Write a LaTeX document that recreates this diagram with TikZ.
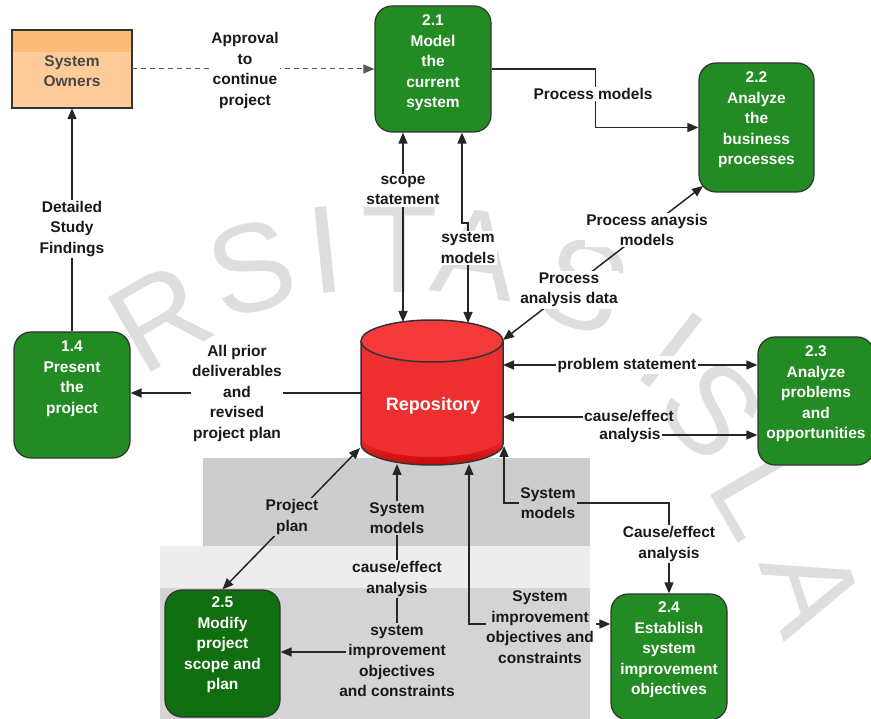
\documentclass[tikz,border=0pt]{standalone}
\usepackage{fontspec}
\setmainfont{Liberation Sans}
\usetikzlibrary{arrows.meta,calc}

\definecolor{procgreen}{HTML}{238B23}
\definecolor{procdark}{HTML}{0F6F0F}
\definecolor{ownerfill}{HTML}{FFCC99}
\definecolor{ownertop}{HTML}{FDBB7A}
\definecolor{edgegray}{HTML}{333333}
\definecolor{linegray}{HTML}{262626}
\definecolor{bandA}{HTML}{CDCDCD}
\definecolor{bandB}{HTML}{D4D4D4}
\definecolor{bandC}{HTML}{EDEDED}
\definecolor{repored}{HTML}{EE2F2F}
\definecolor{repotop}{HTML}{F43A3A}
\definecolor{repodeep}{HTML}{C80808}
\definecolor{marktint}{HTML}{DEDEDE}

\newcommand\lblfont{\bfseries\fontsize{15.5}{20.5}\selectfont}
\newcommand\markfont{\fontsize{125}{125}\selectfont}

\begin{document}
\begin{tikzpicture}[x=1pt,y=-1pt,
  every node/.style={inner sep=0pt},
  lbl/.style={font=\lblfont, align=center, text=black!90, inner sep=1.5pt},
  lblw/.style={lbl, fill=white},
  boxtext/.style={font=\lblfont, align=center, text=white, anchor=north},
  proc/.style={draw=edgegray, line width=1.2pt, rounded corners=17pt, fill=procgreen,
               minimum width=116pt, minimum height=126pt},
  flow/.style={draw=linegray, line width=1.5pt, -{Triangle[length=11pt,width=9pt]}},
  flow2/.style={draw=linegray, line width=1.5pt,
                {Triangle[length=11pt,width=9pt]}-{Triangle[length=11pt,width=9pt]}},
  plain/.style={draw=linegray, line width=1.5pt},
  sealmark/.style={font=\markfont, text=marktint},
]
\useasboundingbox (0,0) rectangle (871,719);
\fill[white] (0,0) rectangle (871,719);

% faint seal lettering in the background
\node[sealmark, rotate=30]  at (160,318) {R};
\node[sealmark, rotate=15]  at (252,268) {S};
\node[sealmark, rotate=6]   at (325,250) {I};
\node[sealmark, rotate=0]   at (400,250) {T};
\node[sealmark, rotate=-8]  at (476,254) {A};
\node[sealmark, rotate=-20] at (583,285) {S};
\node[sealmark, rotate=-38] at (672,350) {I};
\node[sealmark, rotate=-48] at (712,410) {S};
\node[sealmark, rotate=-60] at (760,495) {L};
\node[sealmark, rotate=-72] at (812,590) {A};

% grey panels behind the lower flows
\fill[bandC] (160,546) rectangle (590,588);
\fill[bandA] (203,458) rectangle (590,546);
\fill[bandB] (160,588) rectangle (590,719);

% external agent
\node[fill=ownerfill, minimum width=120pt, minimum height=78pt] (so) at (72,69) {};
\fill[ownertop] (so.north west) rectangle ($(so.north east)+(0,22)$);
\draw[edgegray, line width=1.6pt] (so.north west) rectangle (so.south east);
\node[font=\lblfont, align=center, text=black!72] (sot) at (72,71) {System\\Owners};

% processes
\node[proc] (p21) at (433,69) {};
\node[proc, minimum width=115pt, minimum height=129pt] (p22) at (756.5,127.5) {};
\node[proc] (p14) at (72,395) {};
\node[proc, minimum height=128pt] (p23) at (816,401) {};
\node[proc, fill=procdark, minimum width=115pt, minimum height=127pt] (p25) at (222.5,653.5) {};
\node[proc] (p24) at (669,657) {};

\node[boxtext] (p21t) at ($(p21.north)+(0,9.5)$) {2.1\\Model\\the\\current\\system};
\node[boxtext] (p22t) at ($(p22.north)+(0,9.5)$) {2.2\\Analyze\\the\\business\\processes};
\node[boxtext] (p14t) at ($(p14.north)+(0,9.5)$) {1.4\\Present\\the\\project};
\node[boxtext] (p23t) at ($(p23.north)+(0,9.5)$) {2.3\\Analyze\\problems\\and\\opportunities};
\node[boxtext] (p25t) at ($(p25.north)+(0,7.5)$) {2.5\\Modify\\project\\scope and\\plan};
\node[boxtext] (p24t) at ($(p24.north)+(0,8.5)$) {2.4\\Establish\\system\\improvement\\objectives};

% repository (data store drawn as a cylinder)
\fill[repored] (361,341) -- (361,444) arc[start angle=180, end angle=360, x radius=71pt, y radius=21pt] -- (503,341) -- cycle;
\shade[top color=repored, bottom color=repodeep]
  (361,436) -- (361,444) arc[start angle=180, end angle=360, x radius=71pt, y radius=21pt]
  -- (503,436) arc[start angle=360, end angle=180, x radius=71pt, y radius=21pt] -- cycle;
\draw[edgegray, line width=1.5pt] (361,341) -- (361,444)
  arc[start angle=180, end angle=360, x radius=71pt, y radius=21pt] -- (503,341);
\draw[edgegray, line width=1.5pt, fill=repotop] (432,341) ellipse[x radius=71pt, y radius=21pt];
\node[font=\bfseries\fontsize{18}{20}\selectfont, text=white] (repo) at (433,406) {Repository};

% attachment points on the repository outline
\coordinate (rT1) at (403,322);
\coordinate (rT2) at (468,323);
\coordinate (rTR) at (503,340);
\coordinate (rE1) at (503,365);
\coordinate (rE2) at (503,417);
\coordinate (rL)  at (361,393);
\coordinate (rBL) at (360,448);
\coordinate (rB1) at (397,464);
\coordinate (rB2) at (469,464);
\coordinate (rBR) at (504,446);

% flows
\draw[flow, line width=1pt, draw=black!65, dash pattern=on 5pt off 4pt] (so.east) -- (p21.west |- so.east);
\node[lblw] (appr) at (245,70.5) {Approval\\to\\continue\\project};

\draw[flow] (p21.east) -- ++(104,0) |- (p22.west);
\node[lblw] (pm) at (593,94) {Process models};

\draw[flow2] (p21.south -| rT1) -- (rT1);
\node[lblw] (ss) at (403,190.5) {scope\\statement};

\coordinate (smx) at (462,223);
\draw[flow2] (p21.south -| smx) -- (smx) -- (smx -| rT2) -- (rT2);
\node[lblw] (sm1) at (468,248) {system\\models};

\coordinate (p22bl) at (703,186);
\draw[flow2] (rTR) -- (p22bl);
\node[lblw] (pam) at (647,230) {Process anaysis\\models};
\node[lblw] (pad) at (569,290) {Process\\analysis data};

\draw[flow2] (rE1) -- (p23.west |- rE1);
\node[lblw] (ps) at (627,365) {problem statement};

\node[lbl] (ceA) at (629,416) {cause/effect};
\node[lbl] (ceB) at (630,435) {analysis};
\draw[flow] (ceA.west |- rE2) -- (rE2);
\draw[flow] (ceB.east) -- (p23.west |- ceB.east);

\draw[flow] (rL) -- (p14.east |- rL);
\node[lblw] (apd) at (237,393) {All prior\\deliverables\\and\\revised\\project plan};

\draw[flow] (p14.north) -- (so.south);
\node[lblw] (dsf) at (72,229) {Detailed\\Study\\Findings};

\draw[flow2] (rBL) -- (p25.north);
\node[lbl, fill=bandA] (pp) at (292,517) {Project\\plan};

\node[lbl] (smA) at (397,518) {System\\models};
\node[lbl] (ceC) at (397,579) {cause/effect\\analysis};
\node[lbl] (sio) at (397,661) {system\\improvement\\objectives\\and constraints};
\draw[flow] (smA.north) -- (rB1);
\draw[plain] (smA.south) -- (ceC.north);
\draw[plain] (ceC.south) -- (sio.north);
\coordinate (impL) at (346,652);
\draw[flow] (impL) -- (p25.east |- impL);

\node[lbl] (sioR) at (540,627) {System\\improvement\\objectives and\\constraints};
\coordinate (sL) at (486,624);
\coordinate (sR) at (596,624);
\draw[flow] (sL) -| (rB2);
\draw[flow] (sR) -- (p24.west |- sR);

\node[lbl] (smB) at (548,503) {System\\models};
\node[lbl] (ceD) at (669,544) {Cause/effect\\analysis};
\draw[flow] (smB.west) -| (rBR);
\draw[plain] (smB.east) -| (ceD.north);
\draw[flow] (ceD.south) -- (p24.north -| ceD.south);
\end{tikzpicture}
\end{document}
